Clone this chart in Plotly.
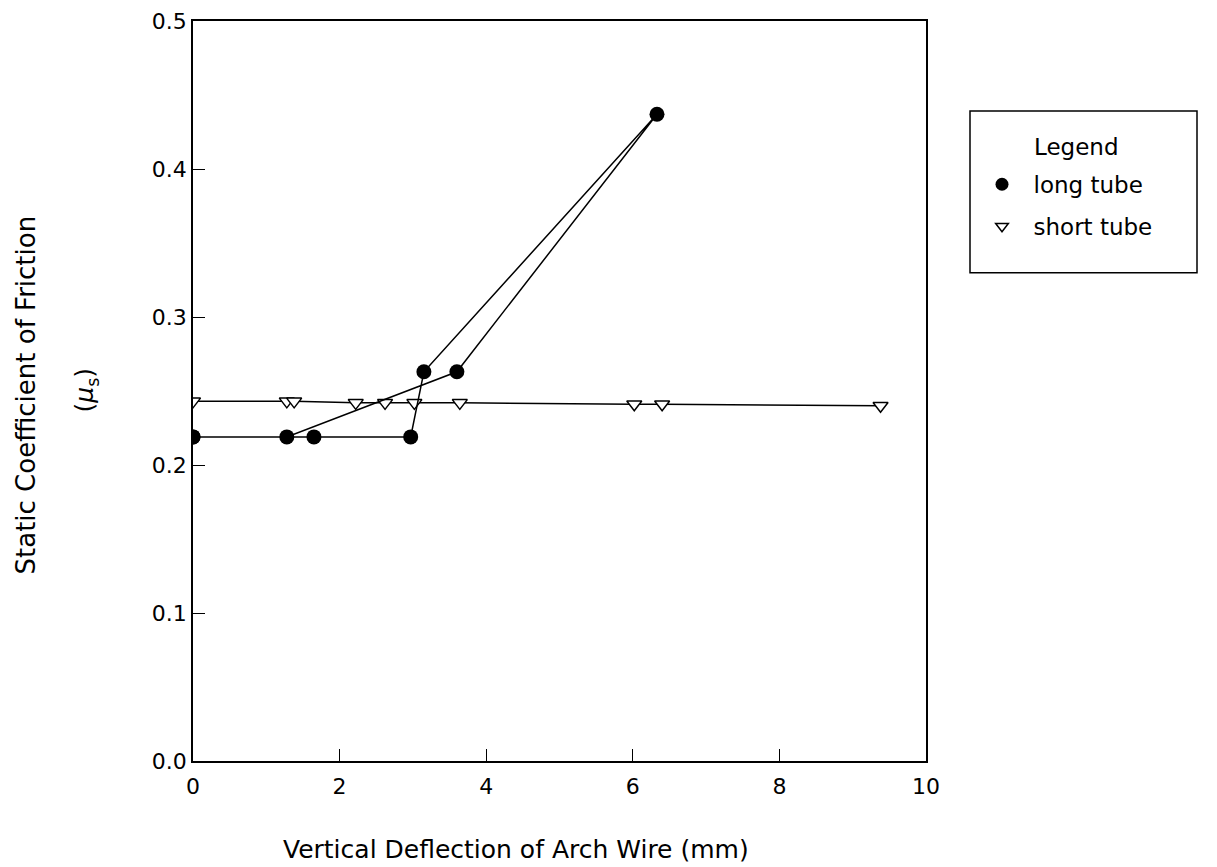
import plotly.graph_objects as go

# Data
long_x = [0.0, 1.65, 2.97, 3.15, 6.33, 3.60, 1.28, 0.0]
long_y = [0.219, 0.219, 0.219, 0.263, 0.437, 0.263, 0.219, 0.219]

short_x = [0.0, 1.28, 1.38, 2.22, 2.62, 3.02, 3.64, 6.02, 6.40, 9.38]
short_y = [0.243, 0.243, 0.243, 0.242, 0.242, 0.242, 0.242, 0.241, 0.241, 0.240]

x_ticks = [0, 2, 4, 6, 8, 10]
y_ticks = [0.0, 0.1, 0.2, 0.3, 0.4, 0.5]
y_tick_text = ["0.0", "0.1", "0.2", "0.3", "0.4", "0.5"]

FONT = "DejaVu Sans"

# page-pixel geometry of the plot area (page has an 8px body margin)
PX0, PX1, PY0, PY1 = 193, 926, 20, 761
def fx(px):
    return (px - PX0) / (PX1 - PX0)
def fy(py):
    return (PY1 - py) / (PY1 - PY0)

circle = dict(symbol="circle", size=15, color="black", line=dict(color="black", width=0))
tri = dict(symbol="triangle-down", size=13, color="white", line=dict(color="black", width=1.5))

fig = go.Figure()
fig.add_trace(go.Scatter(
    x=short_x, y=short_y, mode="lines+markers", name="short tube",
    line=dict(color="black", width=1.5), marker=tri, showlegend=False,
))
fig.add_trace(go.Scatter(
    x=long_x, y=long_y, mode="lines+markers", name="long tube",
    line=dict(color="black", width=1.5), marker=circle, showlegend=False,
))
# legend-only entries (markers only, as in the reference)
fig.add_trace(go.Scatter(x=[None], y=[None], mode="markers", name="long tube",
                         marker=dict(circle, size=13), legendgroup="a", legendrank=1))
fig.add_trace(go.Scatter(x=[None], y=[None], mode="markers", name="short tube",
                         marker=dict(tri, size=11), legendgroup="b", legendrank=2))

fig.update_layout(
    width=1217, height=867,
    margin=dict(l=PX0 - 8, r=1217 - (PX1 - 8), t=PY0 - 7, b=867 - (PY1 - 8),
                autoexpand=False),
    paper_bgcolor="white", plot_bgcolor="white",
    font=dict(family=FONT, size=22, color="black"),
    showlegend=True,
    legend=dict(
        x=fx(970.5), y=fy(162), xanchor="left", yanchor="top",
        bgcolor="rgba(0,0,0,0)", borderwidth=0,
        font=dict(family=FONT, size=23, color="black"),
        tracegroupgap=9, itemwidth=53,
    ),
    xaxis=dict(
        range=[0, 10], tickvals=x_ticks, ticks="inside", ticklen=12,
        tickwidth=1.2, tickcolor="black", showgrid=False, zeroline=False,
        showline=True, linecolor="black", linewidth=1.5, mirror=True,
        automargin=False, ticklabeloverflow="allow",
        tickfont=dict(family=FONT, size=22), ticklabelstandoff=5,
    ),
    yaxis=dict(
        range=[0, 0.5], tickvals=y_ticks, ticktext=y_tick_text, ticks="inside",
        ticklen=12, tickwidth=1.2, tickcolor="black", showgrid=False,
        zeroline=False, showline=True, linecolor="black", linewidth=1.5,
        mirror=True, tickfont=dict(family=FONT, size=22), automargin=False,
        ticklabeloverflow="allow",
    ),
    shapes=[dict(type="rect", xref="paper", yref="paper",
                 x0=fx(970), x1=fx(1197), y0=fy(272), y1=fy(110),
                 line=dict(color="black", width=1.5))],
    annotations=[
        dict(text="Legend", xref="paper", yref="paper",
             x=fx(1032), y=fy(146), xanchor="left",
             yanchor="middle", showarrow=False, font=dict(family=FONT, size=23)),
        dict(text="Vertical Deflection of Arch Wire (mm)", xref="paper", yref="paper",
             x=fx(516), y=fy(850), xanchor="center", yanchor="middle",
             showarrow=False, font=dict(family=FONT, size=25)),
        dict(text="Static Coefficient of Friction", xref="paper", yref="paper",
             x=fx(26), y=fy(395), textangle=-90,
             xanchor="center", yanchor="middle", showarrow=False,
             font=dict(family=FONT, size=26)),
        dict(text="(<i>μ</i><sub>s</sub>)", xref="paper", yref="paper",
             x=fx(86), y=fy(390), textangle=-90,
             xanchor="center", yanchor="middle", showarrow=False,
             font=dict(family=FONT, size=25)),
    ],
)

fig.write_html("out.html")
